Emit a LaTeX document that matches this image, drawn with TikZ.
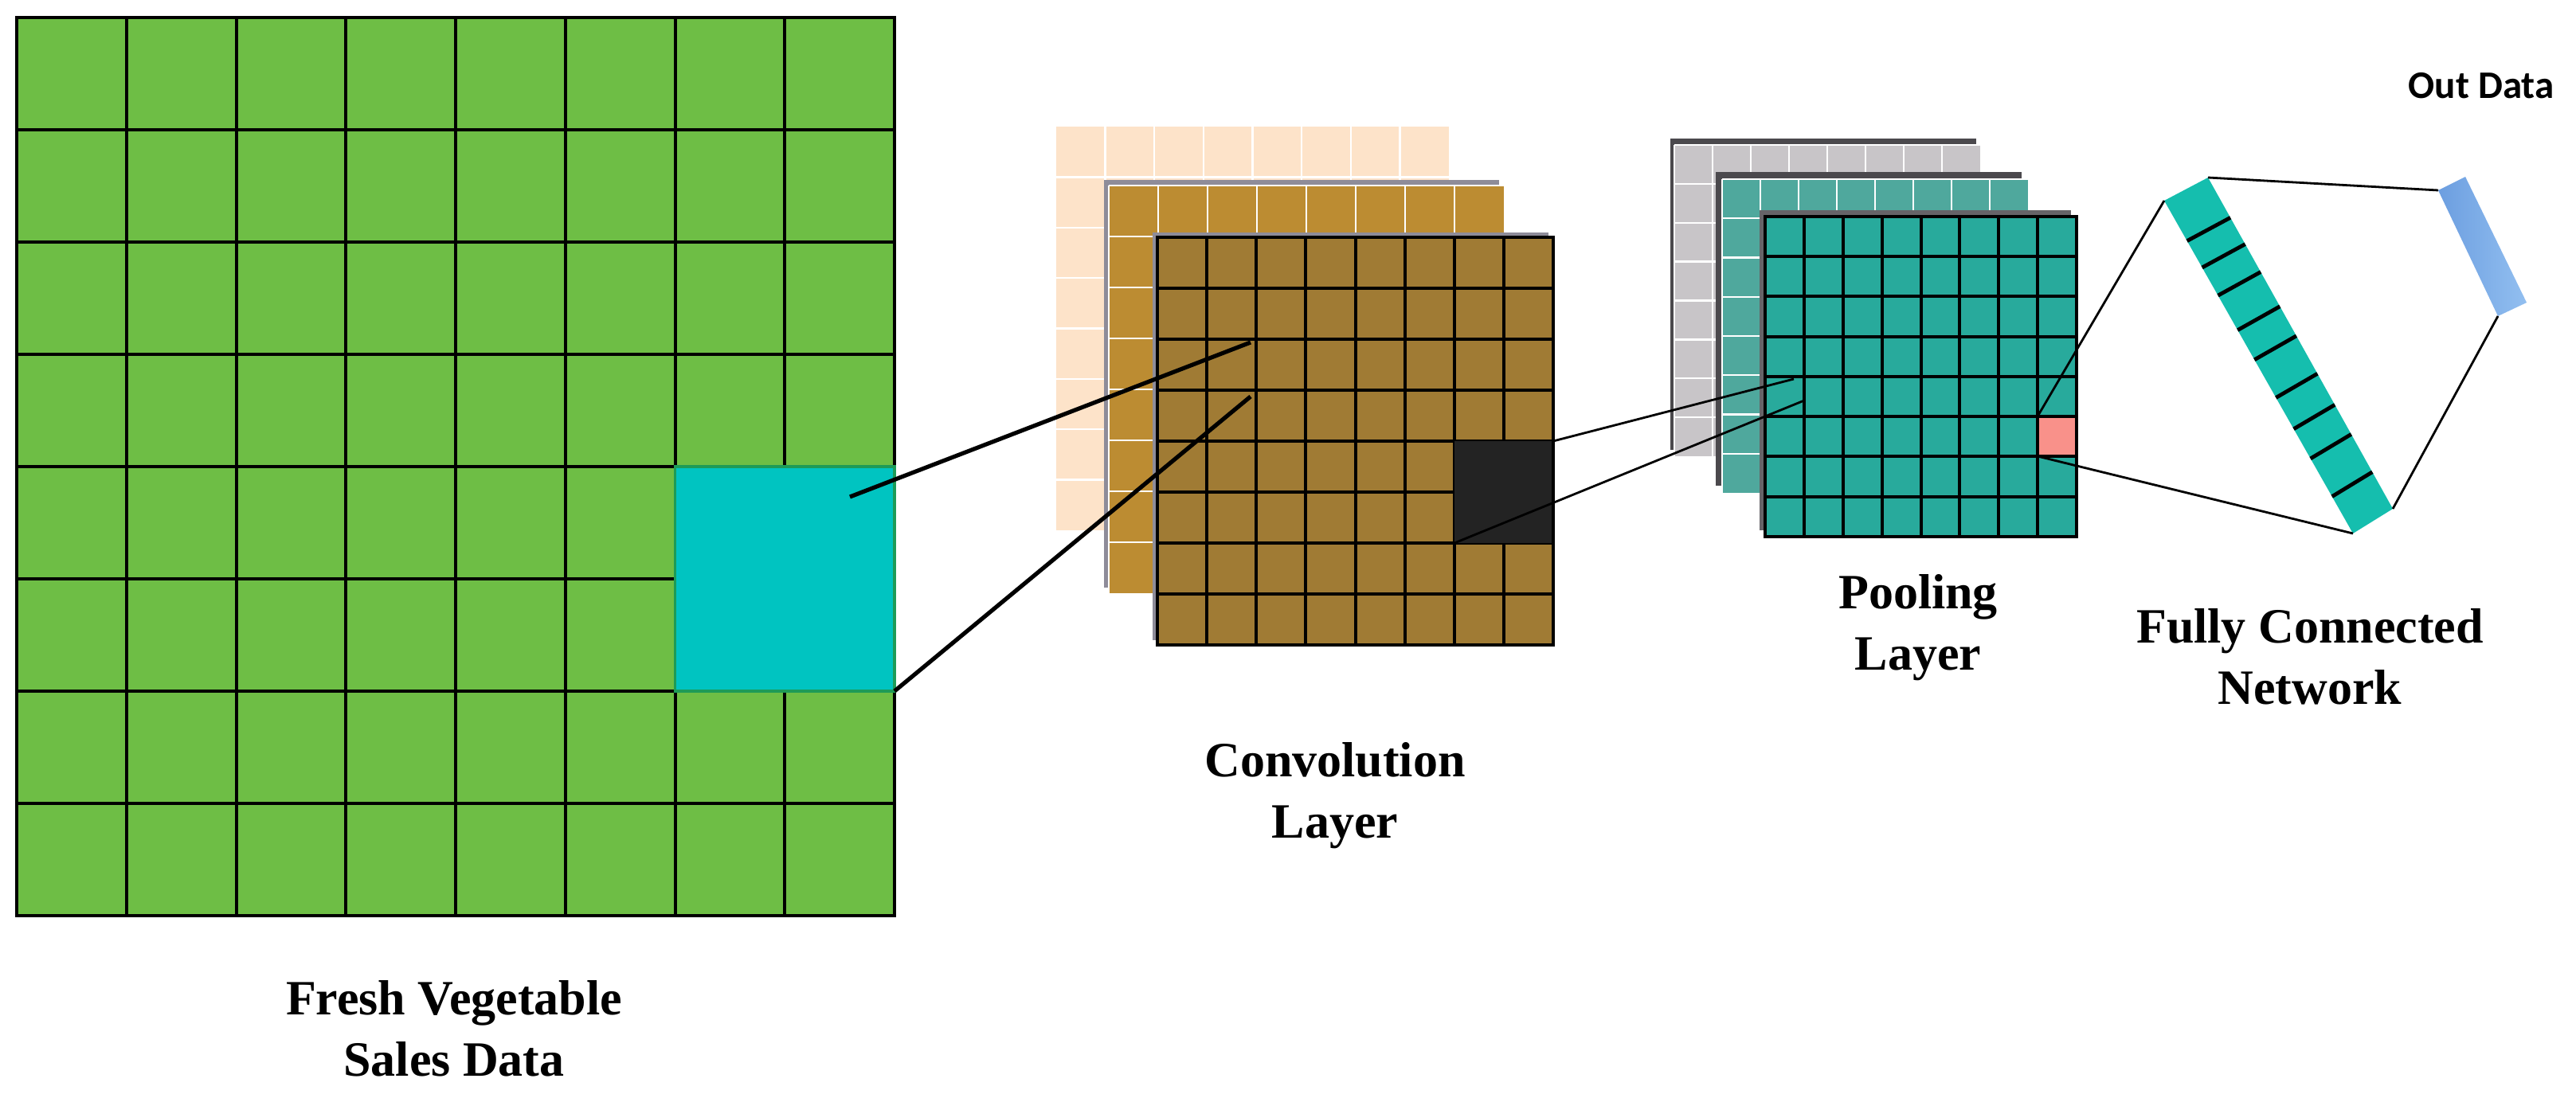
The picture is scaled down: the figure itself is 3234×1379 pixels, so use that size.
\documentclass[tikz,border=0pt]{standalone}
\usepackage{fontspec}
\setmainfont{Liberation Serif}
\newfontfamily\outfont{Carlito}
\usetikzlibrary{calc}
\definecolor{greenc}{HTML}{6EBE45}
\definecolor{cyanc}{HTML}{00C4C1}
\definecolor{cyanedge}{HTML}{1E9B57}
\definecolor{peach}{HTML}{FDE3C9}
\definecolor{goldone}{HTML}{BC8C32}
\definecolor{goldtwo}{HTML}{A07B34}
\definecolor{convshadow}{HTML}{8E8C99}
\definecolor{blacksq}{HTML}{232323}
\definecolor{poolgrey}{HTML}{C8C5C8}
\definecolor{pooldark}{HTML}{4B494D}
\definecolor{tealone}{HTML}{4FA89D}
\definecolor{tealtwo}{HTML}{28AA9C}
\definecolor{pinkc}{HTML}{F9918A}
\definecolor{fcteal}{HTML}{15BEAE}
\definecolor{blueone}{HTML}{6C9EE0}
\definecolor{bluetwo}{HTML}{92BFF0}
% #1 x, #2 y, #3 w, #4 h, #5 fill, #6 line style, #7 first line index
\newcommand\gridsheet[7]{%
  \fill[#5] (#1,#2) rectangle ++(#3,#4);
  \foreach \i in {#7,...,7} {
    \draw[#6] ({#1+\i*(#3)/8},#2) -- ++(0,#4);
    \draw[#6] (#1,{#2+\i*(#4)/8}) -- ++(#3,0);
  }%
}
\begin{document}
\begin{tikzpicture}[x=0.25pt,y=-0.25pt,
  gridk/.style={black, line width=1pt},
  gridw/.style={white, line width=0.6pt},
  conn/.style={black, line width=0.7pt},
  connthick/.style={black, line width=1.3pt},
  lbl/.style={font=\bfseries\fontsize{15.5pt}{19.25pt}\selectfont, align=center, inner sep=0pt},
]
\useasboundingbox (0,0) rectangle (3234,1379);
\fill[white] (0,0) rectangle (3234,1379);

% ---------- input grid ----------
\gridsheet{21}{22}{1102}{1128}{greenc}{gridk}{1}
\draw[gridk] (21,22) rectangle ++(1102,1128);
\fill[cyanc] (847.5,586) rectangle (1123,868);
\draw[cyanedge, line width=0.8pt] (847.5,586) rectangle (1123,868);

% ---------- convolution layer ----------
\gridsheet{1326}{159}{493}{507}{peach}{gridw}{1}
\fill[convshadow] (1386,226) rectangle ++(496,512);
\gridsheet{1392}{233}{496}{512}{goldone}{gridw}{0}
\fill[convshadow] (1447,292) rectangle ++(497,512);
\gridsheet{1453}{298}{497}{512}{goldtwo}{gridk}{1}
\fill[blacksq] (1825.6,554) rectangle (1950,682);
\draw[gridk] (1453,298) rectangle ++(497,512);

% ---------- pooling layer ----------
\fill[pooldark] (2097,174) rectangle ++(384,391);
\gridsheet{2102}{182}{384}{391}{poolgrey}{gridw}{0}
\fill[pooldark] (2154,216) rectangle ++(384,394);
\gridsheet{2162}{225}{384}{394}{tealone}{gridw}{0}
\fill[pooldark!85] (2209,264) rectangle ++(391,402);
\gridsheet{2216}{272}{391}{402}{tealtwo}{gridk}{1}
\draw[gridk] (2216,272) rectangle ++(391,402);
\fill[pinkc] (2560,525) rectangle (2605,571);

% ---------- fully connected bar ----------
\coordinate (P1) at (2717,252);
\coordinate (P2) at (2772,223);
\coordinate (P3) at (3004,639);
\coordinate (P4) at (2954,670);
\fill[fcteal] (P1) -- (P2) -- (P3) -- (P4) -- cycle;
\foreach \f in {0.121,0.201,0.285,0.389,0.478,0.592,0.686,0.775,0.889}
  \draw[black, line width=1.2pt] ($(P1)!\f!(P4)$) -- ($(P2)!\f!(P3)$);

% ---------- output bar ----------
\coordinate (Q1) at (3061,239);
\coordinate (Q2) at (3095,222);
\coordinate (Q3) at (3172,380);
\coordinate (Q4) at (3136,397);
\shade[left color=blueone, right color=bluetwo] (Q1) -- (Q2) -- (Q3) -- (Q4) -- cycle;

% ---------- connector end points ----------
\coordinate (A1) at (1067,624);
\coordinate (A2) at (1123,868);
\coordinate (B1) at (1570,430);
\coordinate (B2) at (1570,498);
\coordinate (C1) at (1950,554);
\coordinate (C2) at (1826,682);
\coordinate (D1) at (2252,476);
\coordinate (D2) at (2265,503);
\coordinate (E1) at (2558,523);
\coordinate (E2) at (2558,573);

\draw[connthick] (A1) -- (B1);
\draw[connthick] (A2) -- (B2);
\draw[conn] (C1) -- (D1);
\draw[conn] (C2) -- (D2);
\draw[conn] (E1) -- (P1);
\draw[conn] (E2) -- (P4);
\draw[conn] (P2) -- (Q1);
\draw[conn] (P3) -- (Q4);

% ---------- labels ----------
\node[lbl, anchor=north] (tin) at (570,1231) {Fresh Vegetable\\Sales Data};
\node[lbl, anchor=north] (tconv) at (1676,932) {Convolution\\Layer};
\node[lbl, anchor=north] (tpool) at (2408,721) {Pooling\\Layer};
\node[lbl, anchor=north] (tfc) at (2900,764) {Fully Connected\\Network};
\node[font=\outfont\bfseries\fontsize{12.25pt}{14pt}\selectfont, inner sep=0pt] (tout) at (3115,108) {Out Data};
\end{tikzpicture}
\end{document}
